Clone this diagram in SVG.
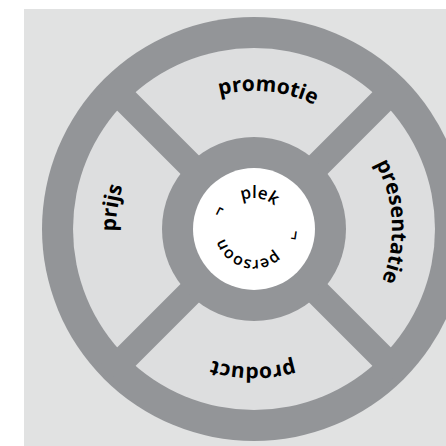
<svg xmlns="http://www.w3.org/2000/svg" width="446" height="446" viewBox="0 0 446 446">
  <style>
    .lbl { font-family: "Open Sans", "Noto Sans", sans-serif; font-weight: 700; font-size: 21px; fill: #000; }
    .inr { font-family: "Open Sans", "Noto Sans", sans-serif; font-weight: 600; font-size: 17px; fill: #000; }
    .spoke { stroke: #939598; stroke-width: 26; }
  </style>
  <defs>
    <path id="arc-promotie" d="M116.7,215.05 A138,138 0 0 1 391.3,242.95"/>
    <path id="arc-presentatie" d="M246.3,91.2 A138,138 0 0 1 261.7,366.8"/>
    <path id="arc-product" d="M392,229.96 A138,138 0 0 1 116,228.04"/>
    <path id="arc-prijs" d="M233.6,365.5 A138,138 0 0 1 274.4,92.5"/>
    <path id="arc-inner" d="M223,229 A31,31 0 0 1 285,229 A31,31 0 0 1 223,229"/>
  </defs>
  <rect x="24" y="9" width="422" height="437" fill="#e1e2e2"/>
  <g id="wheel">
    <circle cx="254" cy="229" r="212" fill="#939598"/>
    <circle cx="254" cy="229" r="181" fill="#dddedf"/>
  </g>
  <g id="connectors">
    <line class="spoke" x1="254" y1="229" x2="110" y2="85"/>
    <line class="spoke" x1="254" y1="229" x2="398" y2="85"/>
    <line class="spoke" x1="254" y1="229" x2="110" y2="373"/>
    <line class="spoke" x1="254" y1="229" x2="398" y2="373"/>
  </g>
  <g id="hub">
    <circle cx="254" cy="229" r="92" fill="#939598"/>
    <circle cx="254" cy="229" r="61" fill="#ffffff"/>
  </g>
  <g id="node-promotie">
    <text class="lbl"><textPath href="#arc-promotie" startOffset="50%" text-anchor="middle">promotie</textPath></text>
  </g>
  <g id="node-presentatie">
    <text class="lbl"><textPath href="#arc-presentatie" startOffset="50%" text-anchor="middle">presentatie</textPath></text>
  </g>
  <g id="node-product">
    <text class="lbl"><textPath href="#arc-product" startOffset="50%" text-anchor="middle">product</textPath></text>
  </g>
  <g id="node-prijs">
    <text class="lbl"><textPath href="#arc-prijs" startOffset="50%" text-anchor="middle">prijs</textPath></text>
  </g>
  <g id="node-center">
    <text class="inr"><textPath href="#arc-inner" startOffset="27.5%" text-anchor="middle">plek</textPath></text>
    <text class="inr" dy="-5"><textPath href="#arc-inner" startOffset="52.5%" text-anchor="middle">¬</textPath></text>
    <text class="inr" style="font-size:16px"><textPath href="#arc-inner" startOffset="79%" text-anchor="middle">persoon</textPath></text>
    <text class="inr" dy="-3"><textPath href="#arc-inner" startOffset="7.5%" text-anchor="middle">¬</textPath></text>
  </g>
</svg>
